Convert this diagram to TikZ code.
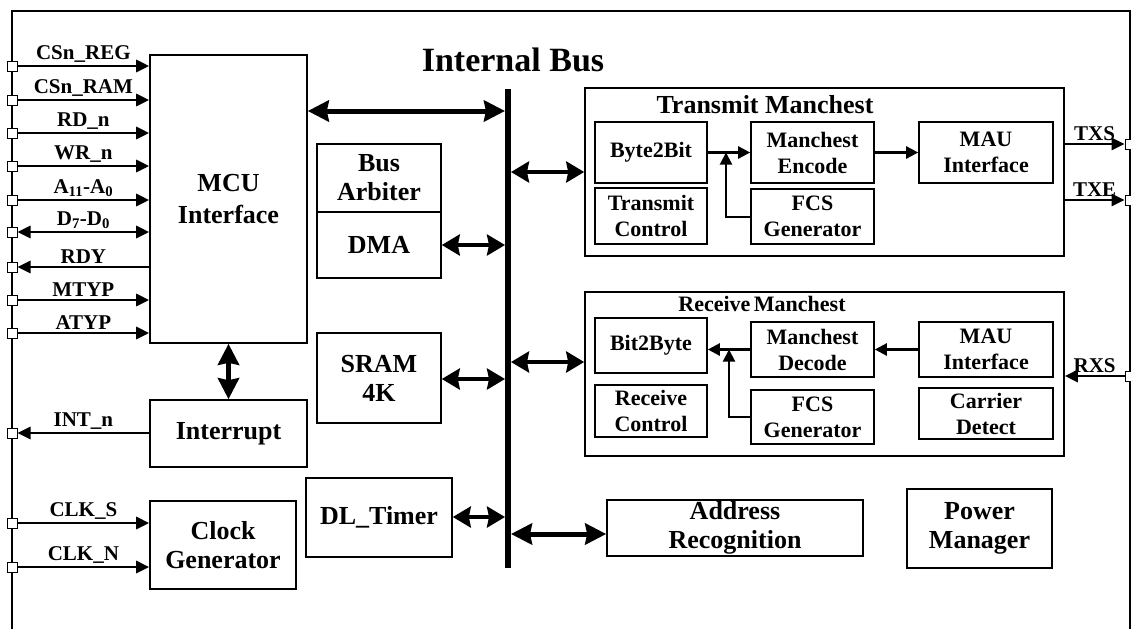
\documentclass[tikz,border=0pt]{standalone}
\usepackage{fontspec}
\setmainfont{Liberation Serif}
\usetikzlibrary{arrows.meta}

\newcommand{\boxf}{\bfseries\fontsize{26}{29}\selectfont}
\newcommand{\innerf}{\bfseries\fontsize{22}{26}\selectfont}
\newcommand{\pinf}{\bfseries\fontsize{21}{24}\selectfont}

\begin{document}
\begin{tikzpicture}[x=1pt, y=-1pt,
    box/.style={draw, line width=1.6pt, align=center, inner sep=0pt, font=\boxf},
    ibox/.style={draw, line width=1.6pt, align=center, inner sep=0pt, font=\innerf},
    pin/.style={draw, fill=white, line width=1pt, minimum size=10pt, inner sep=0pt},
    sig/.style={line width=2.8pt, -{Triangle[length=13pt,width=12pt]}},
    dsig/.style={line width=2.8pt, {Triangle[length=13pt,width=12pt]}-{Triangle[length=13pt,width=12pt]}},
    inarrow/.style={line width=2.4pt, -{Triangle[length=12pt,width=12pt]}},
    bigarrow/.style={line width=5pt, {Stealth[length=21pt,width=21pt,inset=2pt]}-{Stealth[length=21pt,width=21pt,inset=2pt]}},
    midarrow/.style={line width=3.6pt, {Stealth[length=18pt,width=21pt,inset=2pt]}-{Stealth[length=18pt,width=21pt,inset=2pt]}},
    plabel/.style={midway, above=1pt, font=\pinf, inner sep=1pt}]
    \useasboundingbox (0,0) rectangle (1131,629);
    \draw[line width=2pt] (12,629) -- (12,11) -- (1130,11) -- (1130,629);

    % left side blocks
    \node[box, minimum width=157pt, minimum height=288pt] (mcu) at (228.5,199) {MCU\\[3pt]Interface};
    \node[box, minimum width=157pt, minimum height=67pt] (intr) at (228.5,433.5) {Interrupt};
    \node[box, minimum width=146pt, minimum height=88pt] (clk) at (223,545) {Clock\\Generator};

    % middle blocks
    \node[box, minimum width=124pt, minimum height=68pt] (arb) at (379,178) {Bus\\Arbiter};
    \node[box, minimum width=124pt, minimum height=66pt] (dma) at (379,245) {DMA};
    \node[box, minimum width=124pt, minimum height=90pt] (sram) at (379,378) {SRAM\\4K};
    \node[box, minimum width=146pt, minimum height=79pt] (dlt) at (379,517.5) {DL\_Timer};
    \node[box, minimum width=256pt, minimum height=56pt] (addr) at (735,528) {Address\\Recognition};
    \node[box, minimum width=145pt, minimum height=79pt] (pwr) at (979.5,528.5) {Power\\Manager};

    % internal bus
    \coordinate (busTop) at (508,89);
    \coordinate (busBot) at (508,568);
    \draw[line width=6pt] (busTop) -- (busBot);
    \node[font=\bfseries\fontsize{34}{36}\selectfont] (busname) at (513,60) {Internal Bus};

    % transmit manchest
    \node[draw, line width=1.6pt, minimum width=479pt, minimum height=168pt] (tx) at (824.5,172) {};
    \node[font=\boxf] (txname) at (765,105) {Transmit Manchest};
    \node[ibox, minimum width=112pt, minimum height=61pt] (b2b) at (651,152.5) {Byte2Bit};
    \node[ibox, minimum width=123pt, minimum height=61pt] (enc) at (812.5,152.5) {Manchest\\Encode};
    \node[ibox, minimum width=134pt, minimum height=61pt] (tmau) at (986,152.5) {MAU\\Interface};
    \node[ibox, minimum width=112pt, minimum height=56pt] (tctl) at (651,216) {Transmit\\Control};
    \node[ibox, minimum width=123pt, minimum height=55pt] (tfcs) at (812.5,216.5) {FCS\\Generator};
    \coordinate (tjoin) at (726,152.5);
    \draw[inarrow] (b2b) -- (enc);
    \draw[inarrow] (enc) -- (tmau);
    \draw[inarrow, line width=2pt] (tfcs.west) -| (tjoin);

    % receive manchest
    \node[draw, line width=1.6pt, minimum width=479pt, minimum height=164pt] (rx) at (824.5,374) {};
    \node[font=\innerf] (rxname) at (762,304) {Receive\hspace{-2pt} Manchest};
    \node[ibox, minimum width=112pt, minimum height=55pt] (y2b) at (651,345.5) {Bit2Byte};
    \node[ibox, minimum width=123pt, minimum height=55pt] (dec) at (812.5,349.5) {Manchest\\Decode};
    \node[ibox, minimum width=134pt, minimum height=55pt] (rmau) at (986,349.5) {MAU\\Interface};
    \node[ibox, minimum width=112pt, minimum height=52pt] (rctl) at (651,411) {Receive\\Control};
    \node[ibox, minimum width=123pt, minimum height=54pt] (rfcs) at (812.5,417) {FCS\\Generator};
    \node[ibox, minimum width=134pt, minimum height=51pt] (cd) at (986,413.5) {Carrier\\Detect};
    \coordinate (rjoin) at (729,349.5);
    \draw[inarrow] (dec.west) -- (dec.west -| y2b.east);
    \draw[inarrow] (rmau) -- (dec);
    \draw[inarrow, line width=2pt] (rfcs.west) -| (rjoin);

    % bus taps
    \coordinate (tapMCU) at (505,111);
    \coordinate (tapDMA) at (505,245);
    \coordinate (tapSRAM) at (505,379);
    \coordinate (tapDLT) at (505,517);
    \coordinate (tapTX) at (511,172);
    \coordinate (tapRX) at (511,362);
    \coordinate (tapADR) at (511,534);
    \draw[bigarrow] (tapMCU -| mcu.east) -- (tapMCU);
    \draw[midarrow] (dma.east) -- (tapDMA);
    \draw[midarrow] (tapSRAM -| sram.east) -- (tapSRAM);
    \draw[midarrow] (tapDLT -| dlt.east) -- (tapDLT);
    \draw[midarrow] (tapTX) -- (tapTX -| tx.west);
    \draw[midarrow] (tapRX) -- (tapRX -| rx.west);
    \draw[bigarrow] (tapADR) -- (tapADR -| addr.west);
    \draw[bigarrow] (mcu.south) -- (intr.north);

    % left pins
    \foreach \name/\y in {REG/66, RAM/100, RD/133, WR/166, ADR/200, DAT/232, RDY/267, MTYP/300, ATYP/333, INT/433, CLKS/523, CLKN/567}
        \node[pin] (p\name) at (12,\y) {};
    \foreach \name/\txt in {REG/CSn\_REG, RAM/CSn\_RAM, RD/RD\_n, WR/WR\_n, ADR/A\textsubscript{11}-A\textsubscript{0}, MTYP/MTYP, ATYP/ATYP}
        \draw[sig] (p\name) -- (p\name -| mcu.west) node[plabel] {\txt};
    \draw[dsig] (pDAT) -- (pDAT -| mcu.west) node[plabel] {D\textsubscript{7}-D\textsubscript{0}};
    \draw[sig] (pRDY -| mcu.west) -- (pRDY) node[plabel] {RDY};
    \draw[sig] (pINT -| intr.west) -- (pINT) node[plabel] {INT\_n};
    \draw[sig] (pCLKS) -- (pCLKS -| clk.west) node[plabel] {CLK\_S};
    \draw[sig] (pCLKN) -- (pCLKN -| clk.west) node[plabel] {CLK\_N};

    % right pins
    \node[pin] (pTXS) at (1130,144) {};
    \node[pin] (pTXE) at (1130,200) {};
    \node[pin] (pRXS) at (1130,376) {};
    \draw[sig] (pTXS -| tx.east) -- (pTXS) node[plabel] {TXS};
    \draw[sig] (pTXE -| tx.east) -- (pTXE) node[plabel] {TXE};
    \draw[sig] (pRXS) -- (pRXS -| rx.east) node[plabel] {RXS};
\end{tikzpicture}
\end{document}
